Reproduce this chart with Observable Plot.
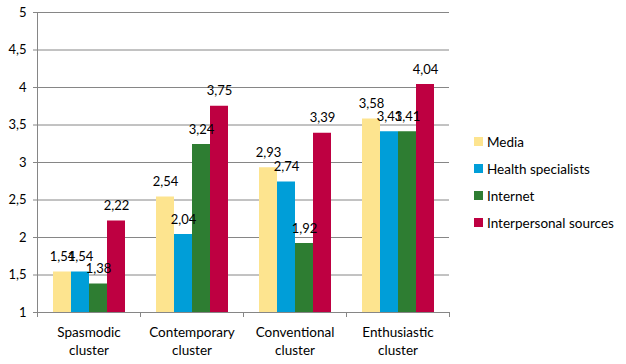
<!DOCTYPE html>
<html><head><meta charset="utf-8">
<script src="https://cdn.jsdelivr.net/npm/d3@7"></script>
<script src="https://cdn.jsdelivr.net/npm/@observablehq/plot@0.6"></script>
<style>
body{margin:0;background:#fff;font-family:Lato,"Open Sans",sans-serif;}
#chart{position:relative;width:626px;height:364px;}
#legend{position:absolute;left:474px;top:128px;font-size:13.5px;color:#000;}
#legend .row{height:27px;display:flex;align-items:center;}
#legend .sw{width:9px;height:9px;margin-right:4px;}
</style>
</head><body><div id="chart"></div>
<script>
const clusters = ["Spasmodic cluster","Contemporary cluster","Conventional cluster","Enthusiastic cluster"];
const series = ["Media","Health specialists","Internet","Interpersonal sources"];
const media = [1.54, 2.54, 2.93, 3.58];
const health = [1.54, 2.04, 2.74, 3.41];
const internet = [1.38, 3.24, 1.92, 3.41];
const interpersonal = [2.22, 3.75, 3.39, 4.04];
const colors = ["#fde48f", "#009ed8", "#2e7d32", "#be0041"];
const yTicks = [1, 1.5, 2, 2.5, 3, 3.5, 4, 4.5, 5];

const values = [media, health, internet, interpersonal];
const data = clusters.flatMap((c, i) => series.map((s, j) => ({cluster: c, series: s, value: values[j][i]})));
const comma = v => String(v).replace(".", ",");
const lab = v => d3.format(".2f")(v).replace(".", ",");

const chart = Plot.plot({
  width: 626, height: 364,
  marginLeft: 36, marginRight: 176, marginTop: 12, marginBottom: 52,
  style: {fontFamily: "Lato, 'Open Sans', sans-serif", fontSize: "13px", color: "#000", background: "white"},
  fx: {domain: clusters, padding: 0, label: null},
  x: {domain: series, paddingInner: 0, paddingOuter: 0.72, axis: null},
  y: {domain: [1, 5], label: null},
  color: {domain: series, range: colors},
  marks: [
    Plot.gridY(yTicks, {stroke: "#868686", strokeOpacity: 1}),
    Plot.axisY(yTicks, {tickFormat: comma, tickSize: 4, tickPadding: 7, stroke: "#868686", fill: "#000", fontSize: 13}),
    Plot.axisFx({anchor: "bottom", tickSize: 0, tickPadding: 12, lineHeight: 1.3, fill: "#000", fontSize: 13.5, tickFormat: d => d.replace(" ", "\n")}),
    Plot.barY(data, {fx: "cluster", x: "series", y1: 1, y2: "value", fill: "series"}),
    Plot.text(data, {fx: "cluster", x: "series", y: "value", text: d => lab(d.value), dy: -15, fill: "#000", fontSize: 13})
  ]
});

// axis lines derived from the scales
const fx = chart.scale("fx"), ys = chart.scale("y");
const svg = d3.select(chart);
const x0 = fx.apply(clusters[0]);
const bounds = clusters.map(c => fx.apply(c)).concat([fx.apply(clusters[clusters.length - 1]) + fx.bandwidth]);
const g = svg.append("g").attr("stroke", "#868686");
g.append("line").attr("x1", x0 + 0.5).attr("x2", x0 + 0.5).attr("y1", ys.apply(5)).attr("y2", ys.apply(1));
bounds.forEach(b => g.append("line").attr("x1", b + 0.5).attr("x2", b + 0.5).attr("y1", ys.apply(1)).attr("y2", ys.apply(1) + 5));

const root = document.getElementById("chart");
root.appendChild(chart);
const legend = document.createElement("div");
legend.id = "legend";
series.forEach((s, i) => {
  const row = document.createElement("div");
  row.className = "row";
  row.innerHTML = `<div class="sw" style="background:${colors[i]}"></div><span>${s}</span>`;
  legend.appendChild(row);
});
root.appendChild(legend);
</script>
</body></html>
